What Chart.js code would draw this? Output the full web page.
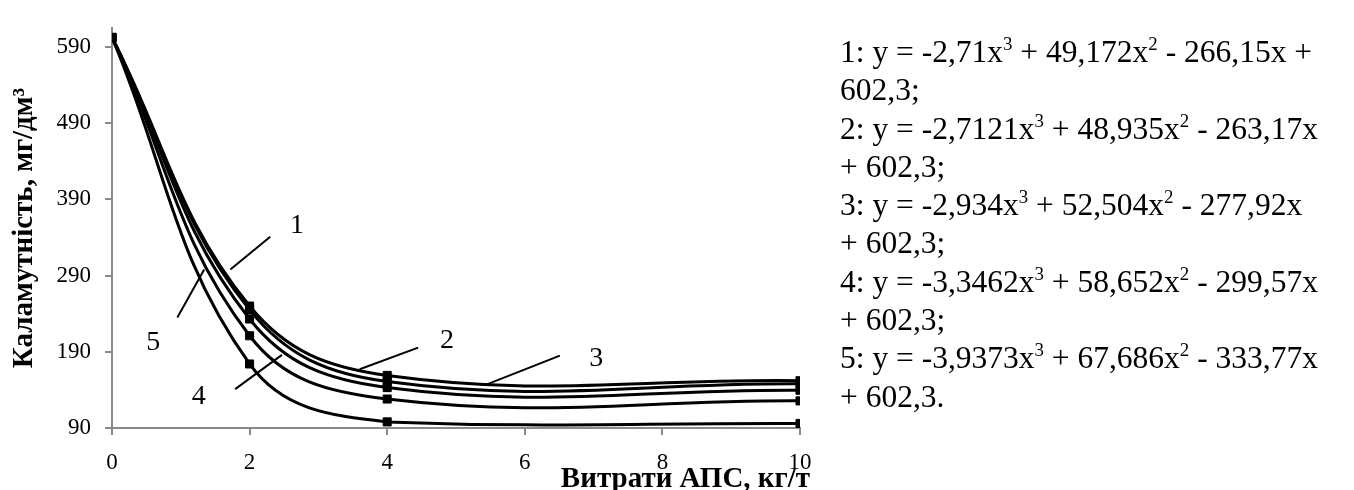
<!DOCTYPE html>
<html>
<head>
<meta charset="utf-8">
<script src="https://cdn.jsdelivr.net/npm/chart.js@4"></script>
<style>
    html, body { margin: 0; padding: 0; background: #fff; }
    #wrap { position: relative; width: 1354px; height: 490px; }
    #turbidityChart { position: absolute; left: 0; top: 0; }
    #equations {
        position: absolute; left: 840px; top: 33px;
        font-family: 'Liberation Serif', 'Times New Roman', serif;
        font-size: 31.5px; line-height: 38.3px; color: #000; white-space: nowrap;
    }
    #equations sup { font-size: 0.6em; line-height: 0; vertical-align: 0.65em; }
</style>
</head>
<body>
<div id="wrap">
    <canvas id="turbidityChart" width="1354" height="490"></canvas>
    <div id="equations">
        1: y = -2,71x<sup>3</sup> + 49,172x<sup>2</sup> - 266,15x +<br>
        602,3;<br>
        2: y = -2,7121x<sup>3</sup> + 48,935x<sup>2</sup> - 263,17x<br>
        + 602,3;<br>
        3: y = -2,934x<sup>3</sup> + 52,504x<sup>2</sup> - 277,92x<br>
        + 602,3;<br>
        4: y = -3,3462x<sup>3</sup> + 58,652x<sup>2</sup> - 299,57x<br>
        + 602,3;<br>
        5: y = -3,9373x<sup>3</sup> + 67,686x<sup>2</sup> - 333,77x<br>
        + 602,3.
    </div>
</div>
<script>
// Дані з графіка: витрати АПС (кг/т) та каламутність (мг/дм3)
const xValues = [0, 2, 4, 10];
const series1 = [602.3, 245, 151, 148];
const series2 = [602.3, 250, 159, 152];
const series3 = [602.3, 233, 143, 139.5];
const series4 = [602.3, 211, 128, 125.6];
const series5 = [602.3, 174, 98, 96];
const seriesNames = ['1', '2', '3', '4', '5'];
const xTicks = [0, 2, 4, 6, 8, 10];
const yTicks = [90, 190, 290, 390, 490, 590];

// Підписи кривих з виносками (в одиницях осей)
const callouts = [
    { text: '1', at: [2.69, 355], line: [[1.72, 298], [2.30, 341]] },
    { text: '2', at: [4.87, 204], line: [[3.60, 167], [4.45, 195.5]] },
    { text: '3', at: [7.04, 181], line: [[5.43, 146.6], [6.51, 185]] },
    { text: '4', at: [1.26, 131], line: [[1.79, 141], [2.47, 186]] },
    { text: '5', at: [0.60, 202], line: [[0.95, 235], [1.34, 298]] }
];

const serif = "'Liberation Serif', 'Times New Roman', serif";
const axisGray = '#8a8a8a';

function toPoints(values) {
    return xValues.map((x, i) => ({ x: x, y: values[i] }));
}

const calloutPlugin = {
    id: 'callouts',
    afterDatasetsDraw(chart) {
        const ctx = chart.ctx;
        const xs = chart.scales.x;
        const ys = chart.scales.y;
        ctx.save();
        ctx.strokeStyle = '#000';
        ctx.lineWidth = 2;
        ctx.fillStyle = '#000';
        ctx.font = '28px ' + serif;
        ctx.textAlign = 'center';
        ctx.textBaseline = 'middle';
        callouts.forEach(c => {
            ctx.beginPath();
            ctx.moveTo(xs.getPixelForValue(c.line[0][0]), ys.getPixelForValue(c.line[0][1]));
            ctx.lineTo(xs.getPixelForValue(c.line[1][0]), ys.getPixelForValue(c.line[1][1]));
            ctx.stroke();
            ctx.fillText(c.text, xs.getPixelForValue(c.at[0]), ys.getPixelForValue(c.at[1]));
        });

        // Назви осей
        ctx.font = 'bold 29px ' + serif;
        ctx.textAlign = 'right';
        ctx.textBaseline = 'alphabetic';
        ctx.fillText('Витрати АПС, кг/т', xs.right + 10, 487);

        ctx.translate(32, 228);
        ctx.rotate(-Math.PI / 2);
        ctx.textAlign = 'center';
        ctx.fillText('Каламутність, мг/дм³', 0, 0);
        ctx.restore();
    }
};

document.addEventListener('DOMContentLoaded', function() {
    const ctx = document.getElementById('turbidityChart').getContext('2d');
    const allSeries = [series1, series2, series3, series4, series5];

    new Chart(ctx, {
        type: 'scatter',
        data: {
            datasets: allSeries.map((values, i) => ({
                label: seriesNames[i],
                data: toPoints(values),
                showLine: true,
                borderColor: '#000',
                backgroundColor: '#000',
                borderWidth: 3,
                tension: 0.4,
                pointStyle: 'rect',
                pointRadius: 5.7,
                pointBorderWidth: 1,
                pointBackgroundColor: '#000',
                pointBorderColor: '#000'
            }))
        },
        options: {
            responsive: false,
            animation: false,
            layout: { autoPadding: false, padding: { top: 5, right: 554, left: 0, bottom: 0 } },
            scales: {
                x: {
                    type: 'linear',
                    min: 0,
                    max: 10,
                    afterBuildTicks: axis => { axis.ticks = xTicks.map(v => ({ value: v })); },
                    afterFit: axis => { axis.height = 62; },
                    grid: { drawOnChartArea: false, color: axisGray, lineWidth: 2, tickLength: 7 },
                    border: { color: axisGray, width: 2 },
                    ticks: { color: '#000', font: { family: serif, size: 23 }, padding: 14, maxRotation: 0 }
                },
                y: {
                    type: 'linear',
                    min: 90,
                    max: 615,
                    afterBuildTicks: axis => { axis.ticks = yTicks.map(v => ({ value: v })); },
                    afterFit: axis => { axis.width = 112; },
                    grid: { drawOnChartArea: false, color: axisGray, lineWidth: 2, tickLength: 7 },
                    border: { color: axisGray, width: 2 },
                    ticks: { color: '#000', font: { family: serif, size: 23 }, padding: 14 }
                }
            },
            plugins: {
                legend: { display: false },
                tooltip: { enabled: false }
            }
        },
        plugins: [calloutPlugin]
    });
});
</script>
</body>
</html>
